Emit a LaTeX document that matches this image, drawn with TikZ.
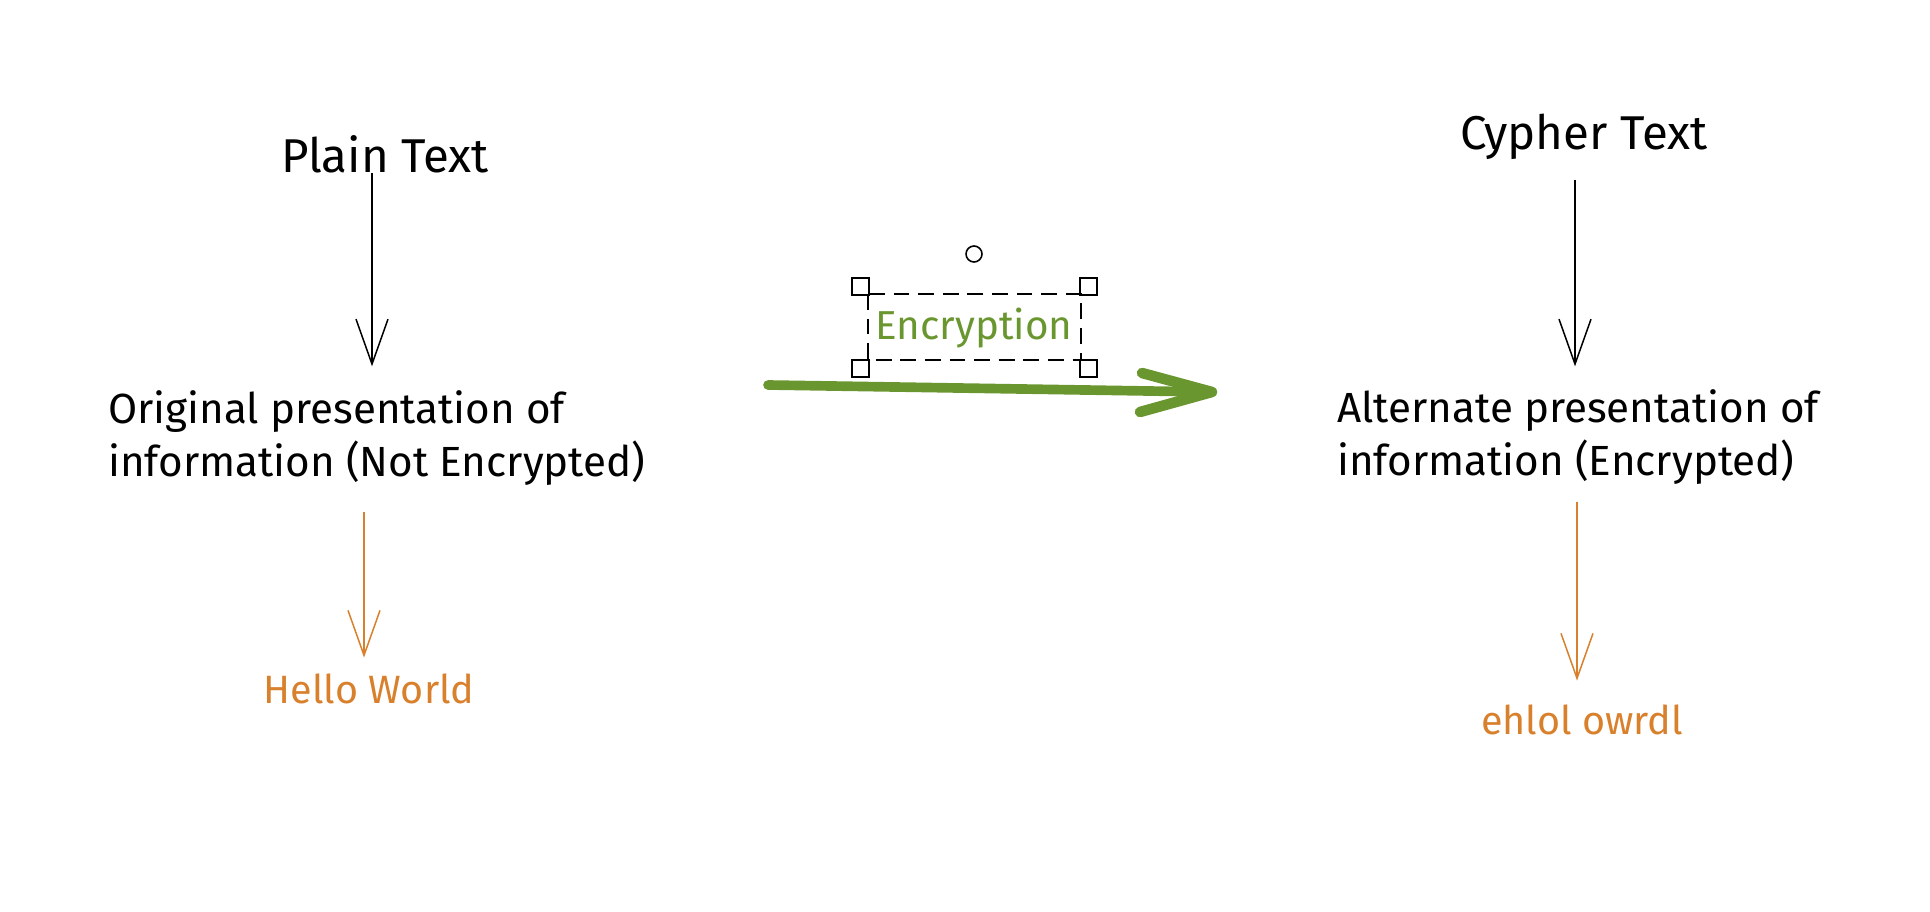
\documentclass[tikz,border=0pt]{standalone}
\usepackage{fontspec}
\setmainfont{Fira Sans}
\usetikzlibrary{arrows.meta}
\definecolor{encgreen}{RGB}{106,150,48}
\definecolor{txtorange}{RGB}{217,128,44}
\tikzset{
  label/.style={font=\fontsize{24pt}{30pt}\selectfont, inner sep=0pt},
  title/.style={label, font=\fontsize{27pt}{30pt}\selectfont},
  result/.style={label, text=txtorange, font=\fontsize{22.5pt}{30pt}\selectfont},
  thinarrow/.style={line width=0.85pt, -{Straight Barb[length=0.9cm,width=0.64cm,line width=0.85pt]}},
  handle/.style={draw, line width=0.9pt}
}
\begin{document}
\begin{tikzpicture}[x=0.02cm, y=-0.02cm]
        \useasboundingbox (0,0) rectangle (1930,912);

        \node[title] (plain) at (385,154) {Plain Text};
        \node[label, anchor=west, align=left] (orig) at (108,438) {Original presentation of\\information (Not Encrypted)};
        \node[result] (hello) at (369,689) {Hello World};

        \node[title] (cypher) at (1584,137) {Cypher Text};
        \node[label, anchor=west, align=left] (alt) at (1337,437) {Alternate presentation of\\information (Encrypted)};
        \node[result] (ehlol) at (1582,720) {ehlol owrdl};

        \path[draw,thinarrow,shorten >=0.48cm] ([xshift=-0.26cm]plain.south) -- ([xshift=-0.26cm]plain.south |- orig.north);
        \path[draw,thinarrow,txtorange,shorten <=0.52cm,shorten >=0.32cm] ([xshift=-0.1cm]hello.north |- orig.south) -- ([xshift=-0.1cm]hello.north);
        \path[draw,thinarrow,shorten <=0.39cm,shorten >=0.46cm] ([xshift=-0.18cm]cypher.south) -- ([xshift=-0.18cm]cypher.south |- alt.north);
        \path[draw,thinarrow,txtorange,shorten <=0.34cm,shorten >=0.48cm] ([xshift=-0.1cm]ehlol.north |- alt.south) -- ([xshift=-0.1cm]ehlol.north);

        % encryption label with its selection box
        \node[label, text=encgreen, font=\fontsize{23pt}{30pt}\selectfont] (enc) at (974,328) {Encryption};
        \draw[dashed, line width=0.9pt, dash pattern=on 9pt off 5pt] (868,294) rectangle (1081,360);
        \draw[handle] (852,278) rectangle (869,295);
        \draw[handle] (1080,278) rectangle (1097,295);
        \draw[handle] (852,360) rectangle (869,377);
        \draw[handle] (1080,360) rectangle (1097,377);
        \draw[line width=0.9pt] (974,254) circle [radius=8];

        \coordinate (encstart) at (768,385);
        \coordinate (enctip) at (1212,392);
        \path[draw,encgreen,line width=5.5pt,line cap=round,line join=round] (encstart) -- (enctip);
        \path[draw,encgreen,line width=6pt,line cap=round,line join=round] (1142,373) -- (enctip) -- (1140,412);
    \end{tikzpicture}
\end{document}
